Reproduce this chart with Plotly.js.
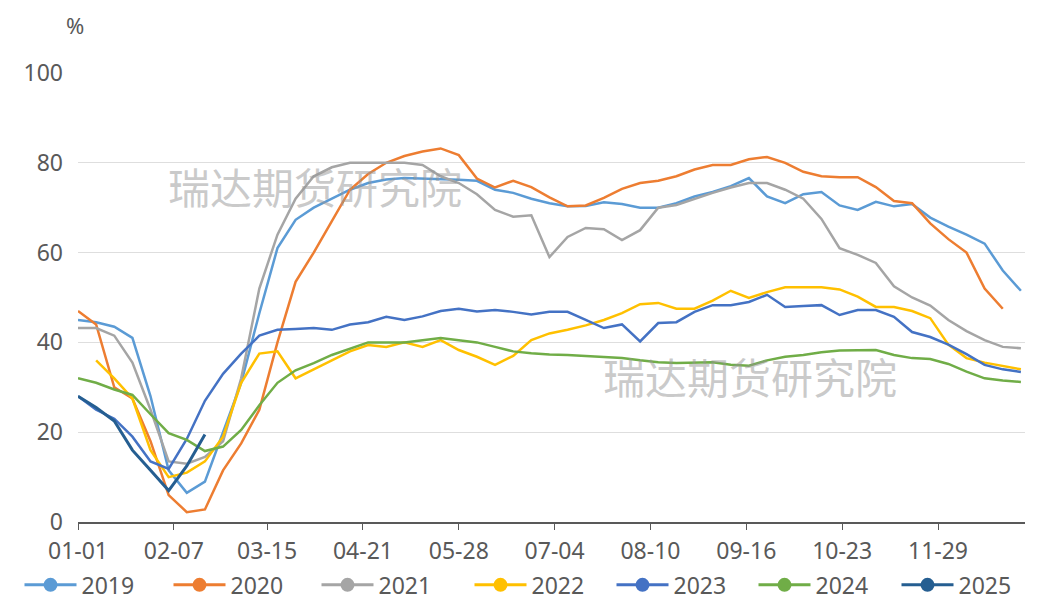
<!DOCTYPE html>
<html>
<head>
<meta charset="utf-8">
<script src="https://cdn.plot.ly/plotly-3.0.1.min.js"></script>
<style>
  html, body { margin: 0; padding: 0; background: #ffffff; }
  #chart { width: 1053px; height: 603px; }
</style>
</head>
<body>
<div id="chart"></div>
<script>
// ---- data (weekly, week index 0..52 from 01-01) ----
const seriesNames = ['2019', '2020', '2021', '2022', '2023', '2024', '2025'];
const seriesColors = ['#5B9BD5', '#ED7D31', '#A5A5A5', '#FFC000', '#4472C4', '#70AD47', '#255E91'];
const tickLabels = ['01-01', '02-07', '03-15', '04-21', '05-28', '07-04', '08-10', '09-16', '10-23', '11-29'];

const v2019 = [45, 44.5, 43.5, 41, 28, 11.5, 6.5, 9, 20, 31, 46.5, 61, 67.3, 70, 72, 74, 75.5, 76.3, 76.6, 76.5,
  76.4, 76.2, 76, 74, 73.3, 72, 71, 70.3, 70.4, 71.2, 70.8, 70, 70, 71, 72.5, 73.5, 74.8, 76.6, 72.5, 71,
  73, 73.5, 70.5, 69.5, 71.3, 70.3, 70.8, 67.8, 65.8, 64, 62, 56, 51.5];
const v2020 = [47, 44, 30, 27.5, 18, 6, 2.2, 2.8, 11.5, 17.5, 25, 40, 53.5, 60, 67, 74, 77.5, 80, 81.5, 82.5,
  83.2, 81.7, 76.5, 74.5, 76, 74.6, 72.3, 70.3, 70.5, 72.2, 74.2, 75.5, 76, 77, 78.5, 79.5, 79.5, 80.8, 81.3, 80,
  78, 77, 76.8, 76.8, 74.6, 71.5, 71, 66.5, 63, 60, 52, 47.5, null];
const v2021 = [43.2, 43.2, 41.5, 35.5, 25, 13.5, 13, 14.5, 18, 32, 52, 64, 72, 77, 79, 80, 80, 80, 80, 79.5,
  77, 75.5, 73, 69.5, 68, 68.3, 59, 63.5, 65.5, 65.2, 62.8, 65, 70, 70.6, 72, 73.3, 74.5, 75.5, 75.5, 74,
  72, 67.5, 61, 59.5, 57.7, 52.5, 50, 48.2, 45, 42.5, 40.5, 39, 38.7];
const v2022 = [null, 36, 32, 27.5, 16, 10, 11, 13.5, 19, 31, 37.5, 38, 32, 34, 36, 38, 39.4, 39, 40, 39,
  40.5, 38.3, 36.8, 35, 37, 40.5, 42, 42.8, 43.8, 45, 46.5, 48.5, 48.8, 47.5, 47.5, 49.3, 51.5, 49.9, 51.2, 52.3,
  52.3, 52.3, 51.8, 50.2, 47.9, 47.9, 47, 45.4, 39.5, 36.5, 35.5, 34.8, 34];
const v2023 = [28, 25, 23, 19, 13.5, 11.8, 18.5, 27, 33, 37.5, 41.5, 42.8, 43, 43.2, 42.8, 44, 44.5, 45.7, 45, 45.8,
  47, 47.5, 46.9, 47.2, 46.8, 46.2, 46.8, 46.8, 45, 43.2, 44, 40.2, 44.3, 44.5, 46.8, 48.3, 48.3, 49, 50.6, 47.9,
  48.1, 48.3, 46.1, 47.2, 47.2, 45.7, 42.3, 41.2, 39.5, 37.4, 35, 34, 33.4];
const v2024 = [32, 31, 29.5, 28.3, 24, 19.8, 18.3, 15.8, 16.8, 20.5, 26, 31, 33.8, 35.4, 37.2, 38.6, 40, 40, 40, 40.5,
  41, 40.5, 40, 39, 38, 37.6, 37.3, 37.2, 37, 36.7, 36.5, 36, 35.6, 35.4, 35.5, 35.6, 35, 34.8, 36, 36.8,
  37.2, 37.8, 38.2, 38.3, 38.3, 37.2, 36.5, 36.3, 35.2, 33.5, 32, 31.5, 31.2];
const v2025 = [28, 25.5, 22.5, 16, 11.5, 7, 12.5, 19.5];

const seriesValues = [v2019, v2020, v2021, v2022, v2023, v2024, v2025];

// week dates on a common (non-leap) reference year
const weekDates = Array.from({length: 53}, (_, i) =>
  new Date(Date.UTC(2001, 0, 1 + 7 * i)).toISOString().slice(0, 10));
const tickVals = tickLabels.map(t => '2001-' + t);

const FONT = '"Noto Sans", "Open Sans", Arial, sans-serif';
const TXT = '#595959';

// legend entry left edges (px) along the bottom row
const legendLeftPx = [19.5, 168.5, 316.5, 469.5, 611.5, 753.5, 896.5];

const traces = [];
seriesNames.forEach((name, k) => {
  traces.push({
    type: 'scatter', mode: 'lines', name: name,
    x: weekDates.slice(0, seriesValues[k].length), y: seriesValues[k],
    line: {color: seriesColors[k], width: k === 6 ? 3 : 2.5},
    connectgaps: false, showlegend: false, hoverinfo: 'x+y+name'
  });
});
// legend entries (line with dot symbol), one small legend per entry
seriesNames.forEach((name, k) => {
  traces.push({
    type: 'scatter', mode: 'lines+markers', name: name,
    x: [null], y: [null],
    line: {color: seriesColors[k], width: 3},
    marker: {color: seriesColors[k], size: 14, symbol: 'circle'},
    showlegend: true, hoverinfo: 'skip',
    legend: k === 0 ? 'legend' : 'legend' + (k + 1)
  });
});

const wmFont = {family: '"Noto Sans CJK SC", sans-serif', size: 42, color: 'rgba(150,150,150,0.5)'};

const layout = {
  width: 1053, height: 603,
  margin: {l: 78, r: 28, t: 73, b: 81, pad: 0},
  paper_bgcolor: '#ffffff', plot_bgcolor: '#ffffff',
  font: {family: FONT, size: 23, color: TXT},
  showlegend: true,
  xaxis: {
    type: 'date',
    range: ['2001-01-01', '2002-01-01 14:00'],
    tickmode: 'array', tickvals: tickVals, ticktext: tickLabels,
    ticks: 'outside', ticklen: 6, tickwidth: 1, tickcolor: TXT,
    showline: true, linecolor: TXT, linewidth: 1.5,
    showgrid: false, zeroline: false,
    tickfont: {family: FONT, size: 23, color: TXT},
    ticklabelstandoff: 2,
    automargin: false
  },
  yaxis: {
    range: [0, 100], tickmode: 'array', tickvals: [0, 20, 40, 60, 80, 100],
    showgrid: true, gridcolor: '#dedede', gridwidth: 1,
    zeroline: false, showline: false, ticks: '',
    tickfont: {family: FONT, size: 23, color: TXT},
    ticklabelstandoff: 14,
    automargin: false
  },
  annotations: [
    {text: '%', xref: 'paper', yref: 'paper', x: -0.003, y: 1.107, xanchor: 'center', yanchor: 'middle',
     showarrow: false, font: {family: FONT, size: 22, color: TXT}},
    {text: '瑞达期货研究院', xref: 'paper', yref: 'paper', x: 0.25, y: 0.75, xanchor: 'center', yanchor: 'middle',
     showarrow: false, font: wmFont},
    {text: '瑞达期货研究院', xref: 'paper', yref: 'paper', x: 0.71, y: 0.327, xanchor: 'center', yanchor: 'middle',
     showarrow: false, font: wmFont}
  ]
};

legendLeftPx.forEach((px, k) => {
  const key = k === 0 ? 'legend' : 'legend' + (k + 1);
  layout[key] = {
    orientation: 'h',
    xref: 'container', x: px / 1053, xanchor: 'left',
    yref: 'container', y: 0.03, yanchor: 'middle',
    font: {family: FONT, size: 23, color: TXT},
    itemwidth: 52,
    bgcolor: 'rgba(0,0,0,0)'
  };
});

Plotly.newPlot('chart', traces, layout, {displayModeBar: false, staticPlot: true});
</script>
</body>
</html>
